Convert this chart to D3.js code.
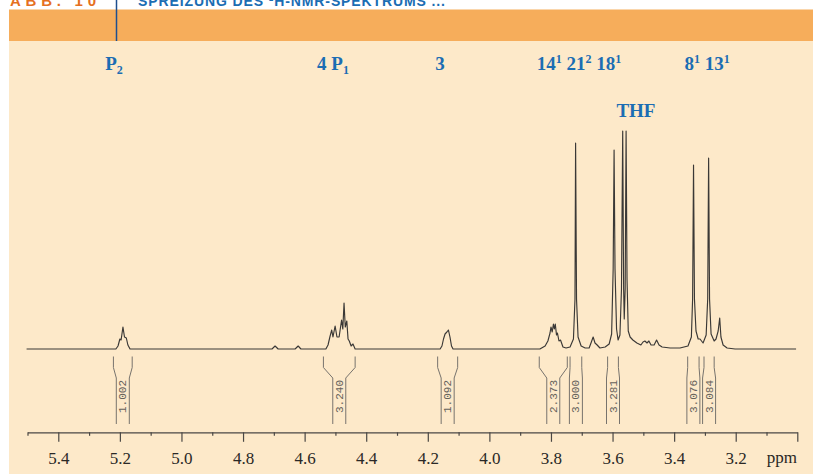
<!DOCTYPE html>
<html>
<head>
<meta charset="utf-8">
<script src="https://cdn.jsdelivr.net/npm/d3@7"></script>
<style>
  body { margin: 0; background: #fff; }
</style>
</head>
<body>
<svg id="nmr"></svg>
<script>

// spectrum: [ppm, intensity (a.u.)]
const spectrum = [
    [5.503, 0],
    [5.213, 0], [5.206, 3], [5.200, 10], [5.196, 9], [5.190, 22], [5.185, 12], [5.179, 11], [5.174, 4], [5.167, 0],
    [4.706, 0], [4.696, 3], [4.686, 0],
    [4.631, 0], [4.621, 3], [4.612, 0],
    [4.531, 0], [4.524, 4], [4.518, 12], [4.512, 19], [4.508, 12], [4.501, 23], [4.495, 12], [4.488, 12],
    [4.480, 29], [4.476, 20], [4.472, 46], [4.468, 22], [4.463, 28], [4.459, 10], [4.455, 8], [4.449, 3],
    [4.443, 5], [4.436, 0],
    [4.160, 0], [4.154, 3], [4.149, 10], [4.144, 15], [4.138, 17], [4.133, 19], [4.128, 12], [4.123, 3], [4.118, 0],
    [3.836, 0], [3.819, 3], [3.810, 8], [3.803, 16], [3.800, 22], [3.796, 17], [3.792, 25], [3.789, 20],
    [3.786, 25], [3.782, 14], [3.779, 16], [3.774, 8], [3.769, 9], [3.761, 2], [3.751, 1], [3.738, 2],
    [3.727, 10], [3.722, 50], [3.720, 206], [3.717, 50], [3.712, 12], [3.702, 3], [3.689, 1], [3.676, 1],
    [3.670, 6], [3.663, 12], [3.657, 6], [3.650, 4], [3.641, 1],
    [3.624, 2], [3.611, 5], [3.603, 15], [3.598, 80], [3.595, 199], [3.592, 80], [3.587, 20], [3.582, 9],
    [3.576, 14], [3.571, 60], [3.567, 218], [3.564, 60], [3.562, 30], [3.559, 60], [3.556, 218], [3.553, 70],
    [3.549, 18], [3.543, 12], [3.534, 9], [3.521, 6], [3.508, 4],
    [3.501, 7], [3.495, 8], [3.488, 6], [3.482, 8], [3.475, 4], [3.465, 4], [3.457, 9], [3.449, 4],
    [3.439, 2], [3.413, 1], [3.381, 1], [3.355, 3],
    [3.344, 12], [3.340, 50], [3.337, 184], [3.334, 50], [3.329, 18], [3.322, 10], [3.316, 10], [3.311, 8], [3.306, 6],
    [3.296, 14], [3.291, 50], [3.288, 191], [3.285, 50], [3.280, 15], [3.270, 8], [3.264, 10], [3.257, 18],
    [3.252, 31], [3.248, 12], [3.241, 4], [3.228, 1], [3.202, 0], [3.004, 0]
]

// integration ranges (ppm) and values
const integralFrom = [5.221, 4.539, 4.168, 3.838, 3.738, 3.616, 3.356, 3.303]
const integralTo = [5.160, 4.436, 4.103, 3.747, 3.700, 3.581, 3.319, 3.270]
const integralValues = ['1.002', '3.240', '1.092', '2.373', '3.000', '3.281', '3.076', '3.084']

// assignment labels: ppm position, row, text parts
const assignments = [
    { ppm: 5.219, row: 0, parts: [['P', ''], ['2', 'sub']] },
    { ppm: 4.508, row: 0, parts: [['4 P', ''], ['1', 'sub']] },
    { ppm: 4.160, row: 0, parts: [['3', '']] },
    { ppm: 3.709, row: 0, parts: [['14', ''], ['1', 'sup'], [' 21', ''], ['2', 'sup'], [' 18', ''], ['1', 'sup']] },
    { ppm: 3.293, row: 0, parts: [['8', ''], ['1', 'sup'], [' 13', ''], ['1', 'sup']] },
    { ppm: 3.524, row: 1, parts: [['THF', '']] }
]

const majorTicks = [5.4, 5.2, 5.0, 4.8, 4.6, 4.4, 4.2, 4.0, 3.8, 3.6, 3.4, 3.2, 3.0]
const minorTicks = [5.5, 5.3, 5.1, 4.9, 4.7, 4.5, 4.3, 4.1, 3.9, 3.7, 3.5, 3.3, 3.1]
const tickLabels = ['5.4', '5.2', '5.0', '4.8', '4.6', '4.4', '4.2', '4.0', '3.8', '3.6', '3.4', '3.2', '']

const width = 813
const height = 474
const blue = '#1b6db3'
const serif = '"Liberation Serif", "DejaVu Serif", serif'

const svg = d3.select('#nmr')
    .attr('width', width)
    .attr('height', height)

// header and background
svg.append('rect')
    .attr('width', width)
    .attr('height', height)
    .style('fill', '#fff')

svg.append('rect')
    .attr('x', 9).attr('y', 9.5)
    .attr('width', width - 9).attr('height', 31.5)
    .style('fill', '#f6ad5b')

svg.append('rect')
    .attr('x', 9).attr('y', 41)
    .attr('width', width - 9).attr('height', height - 41)
    .style('fill', '#fde9c9')

// page heading, cut by the top edge as in the source
svg.append('text')
    .attr('x', 10).attr('y', 6)
    .attr('textLength', 86)
    .attr('lengthAdjust', 'spacing')
    .style('font', 'bold 15px "Liberation Sans", sans-serif')
    .style('fill', '#e5701f')
    .text('ABB. 10')

svg.append('text')
    .attr('x', 138).attr('y', 6)
    .attr('textLength', 307)
    .attr('lengthAdjust', 'spacing')
    .style('font', 'bold 14px "Liberation Sans", sans-serif')
    .style('fill', blue)
    .text('SPREIZUNG DES ¹H-NMR-SPEKTRUMS ...')

svg.append('line')
    .attr('x1', 116.5).attr('x2', 116.5)
    .attr('y1', 0).attr('y2', 41)
    .style('stroke', '#1d4f8f')
    .style('stroke-width', 1.5)

// scales
const x = d3.scaleLinear().domain([5.5, 3.0]).range([27.5, 797.3])
const y = d3.scaleLinear().domain([0, 218]).range([349, 131])

// spectrum
const line = d3.line()
    .x(d => x(d[0]))
    .y(d => y(d[1]))

svg.append('path')
    .datum(spectrum)
    .attr('d', line)
    .style('fill', 'none')
    .style('stroke', '#3a3836')
    .style('stroke-width', 1.15)
    .style('stroke-linejoin', 'round')

// integration brackets
const yTop = 356.5, bend0 = 367.5, bend1 = 378, yBottom = 424, inner = 6.5
const integ = svg.append('g')

integralValues.forEach((v, i) => {
    const x0 = x(integralFrom[i])
    const x1 = x(integralTo[i])
    const mid = (x0 + x1) / 2
    integ.append('path')
        .attr('d', `M${x0},${yTop}V${bend0}L${mid - inner},${bend1}V${yBottom}` +
                   `M${x1},${yTop}V${bend0}L${mid + inner},${bend1}V${yBottom}`)
        .style('fill', 'none')
        .style('stroke', '#77736d')
        .style('stroke-width', 1)
    integ.append('text')
        .attr('transform', `translate(${mid + 0.5},396.5) rotate(-90)`)
        .attr('text-anchor', 'middle')
        .attr('dominant-baseline', 'central')
        .style('font', '11px "Liberation Mono", monospace')
        .style('fill', '#66625c')
        .text(v)
})

// assignment labels
const labelRows = [69.5, 117]
assignments.forEach(a => {
    const t = svg.append('text')
        .attr('x', x(a.ppm))
        .attr('y', labelRows[a.row])
        .attr('text-anchor', 'middle')
        .style('font-family', serif)
        .style('font-weight', 'bold')
        .style('font-size', '19px')
        .style('fill', blue)
    let shift = 0
    a.parts.forEach(p => {
        const target = p[1] === 'sub' ? 4 : p[1] === 'sup' ? -7 : 0
        t.append('tspan')
            .attr('dy', target - shift)
            .style('font-size', p[1] ? '12px' : '19px')
            .text(p[0])
        shift = target
    })
})

// axis
const axis = d3.axisBottom(x)
    .tickValues(majorTicks)
    .tickSize(9.5)
    .tickSizeOuter(0)
    .tickPadding(10)
    .tickFormat((d, i) => tickLabels[i])

const minorAxis = d3.axisBottom(x)
    .tickValues(minorTicks)
    .tickSize(3.5)
    .tickFormat('')

const gAxis = svg.append('g')
    .attr('transform', 'translate(0,432.3)')
    .call(axis)

const gMinor = svg.append('g')
    .attr('transform', 'translate(0,432.3)')
    .call(minorAxis)
gMinor.select('.domain').remove()

svg.selectAll('.domain, .tick line')
    .style('stroke', '#4a4744')
    .style('stroke-width', 1.2)

gAxis.selectAll('text')
    .style('font-family', serif)
    .style('font-size', '17px')
    .style('fill', '#2a2826')

svg.append('text')
    .attr('x', 797)
    .attr('y', 462.7)
    .attr('text-anchor', 'end')
    .style('font-family', serif)
    .style('font-size', '17px')
    .style('fill', '#2a2826')
    .text('ppm')

</script>
</body>
</html>
